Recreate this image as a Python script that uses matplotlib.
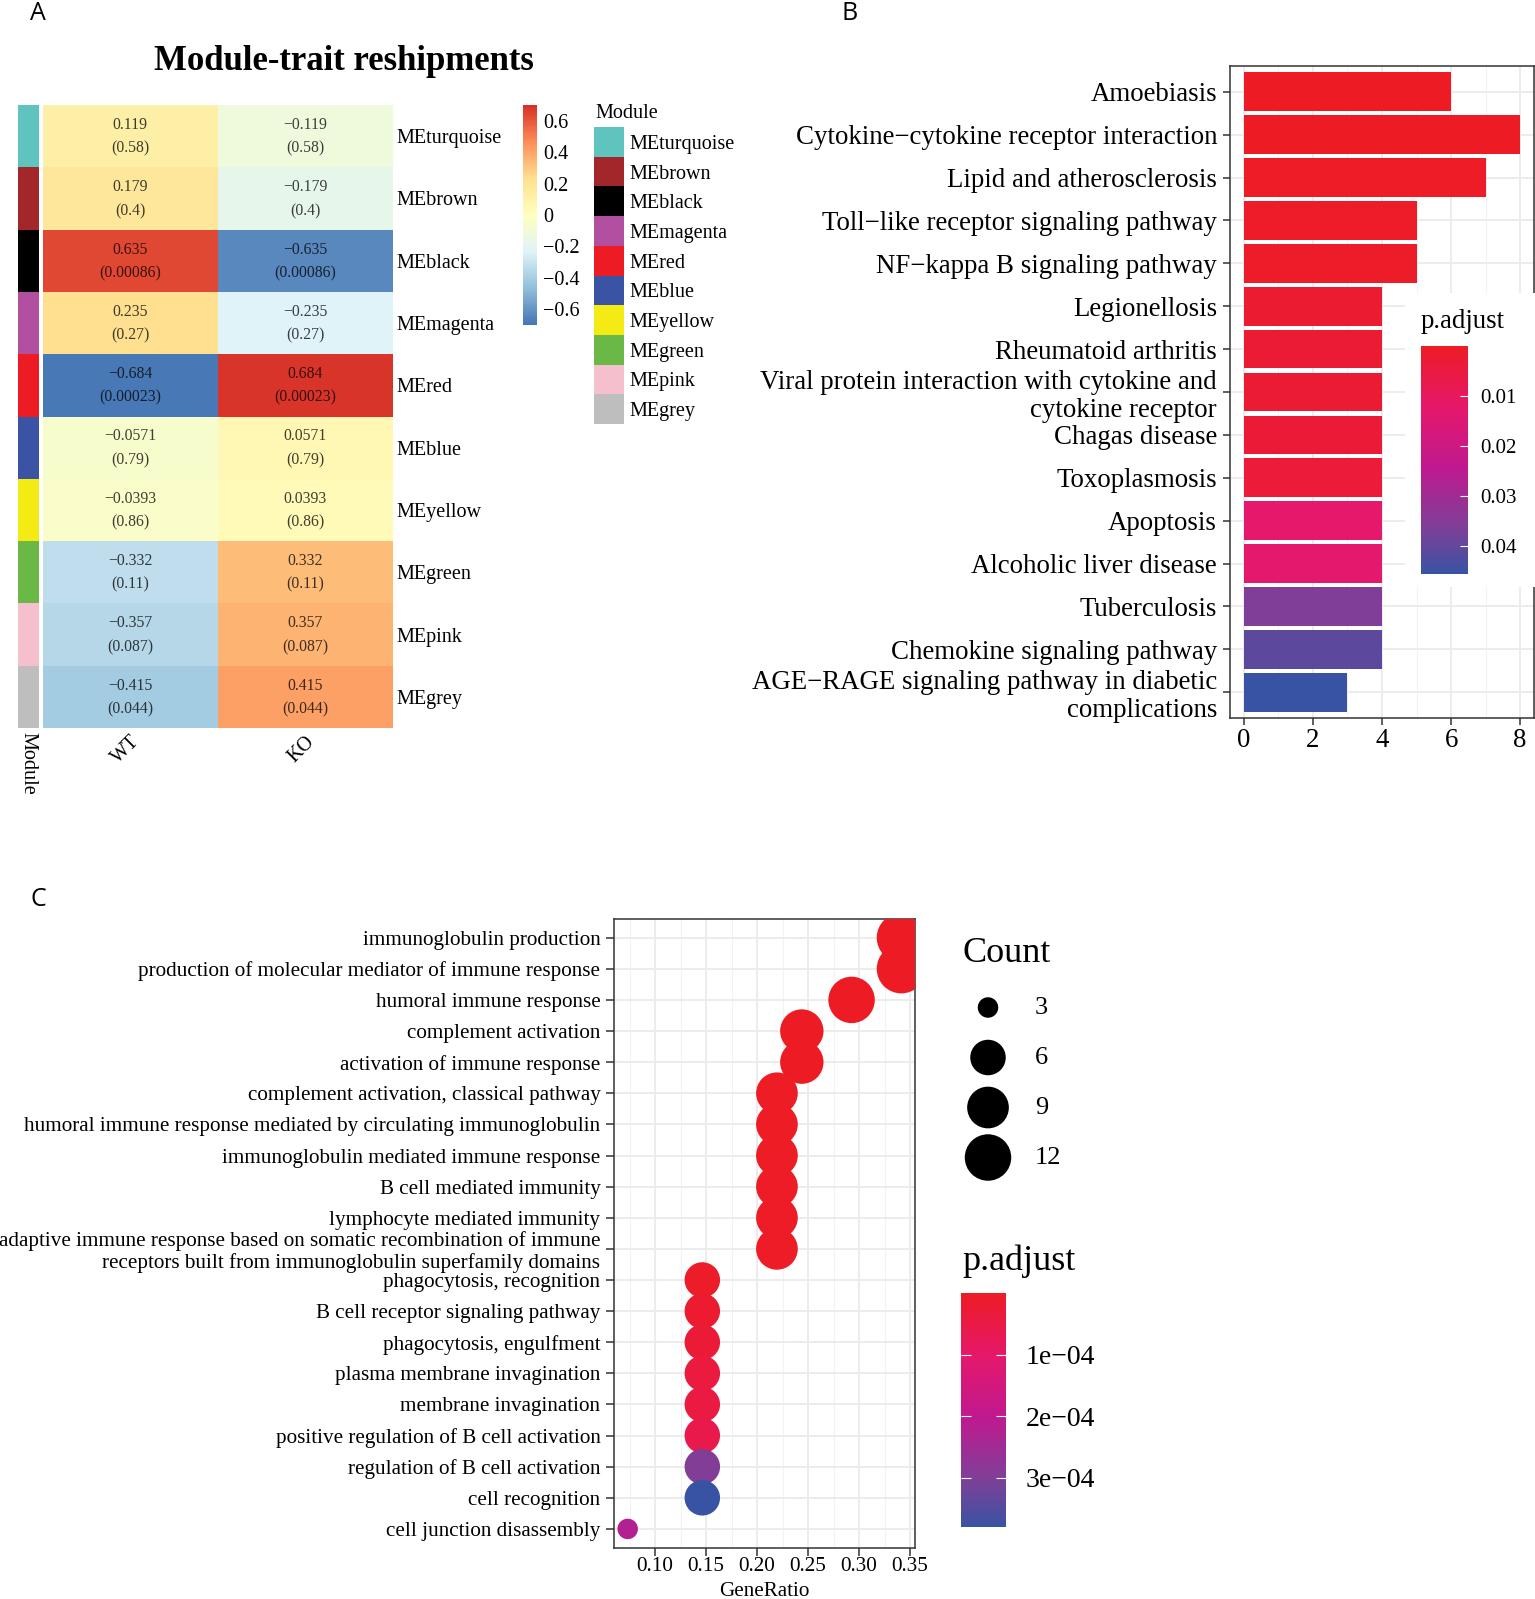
import numpy as np
import matplotlib
matplotlib.use("Agg")
import matplotlib.pyplot as plt
from matplotlib.colors import LinearSegmentedColormap, ListedColormap, Normalize
from matplotlib.cm import ScalarMappable
from matplotlib.ticker import FixedLocator

plt.rcParams["font.family"] = ["Liberation Serif", "DejaVu Serif"]
plt.rcParams["axes.unicode_minus"] = True

W, H = 1535, 1599

# ---- panel A: module-trait correlations ----
modules = ["MEturquoise", "MEbrown", "MEblack", "MEmagenta", "MEred",
           "MEblue", "MEyellow", "MEgreen", "MEpink", "MEgrey"]
module_colors = ["#5fc4be", "#a3262a", "#000000", "#b24fa0", "#ed1c24",
                 "#3a53a4", "#f5eb14", "#6ab946", "#f5bfce", "#bebebe"]
traits = ["WT", "KO"]
cor_wt = [0.119, 0.179, 0.635, 0.235, -0.684, -0.0571, -0.0393, -0.332, -0.357, -0.415]
cor_ko = [-0.119, -0.179, -0.635, -0.235, 0.684, 0.0571, 0.0393, 0.332, 0.357, 0.415]
pval = [0.58, 0.4, 0.00086, 0.27, 0.00023, 0.79, 0.86, 0.11, 0.087, 0.044]
cbar_ticks_a = [0.6, 0.4, 0.2, 0, -0.2, -0.4, -0.6]

# ---- panel B: KEGG barplot ----
kegg_terms = ["Amoebiasis",
              "Cytokine\u2212cytokine receptor interaction",
              "Lipid and atherosclerosis",
              "Toll\u2212like receptor signaling pathway",
              "NF\u2212kappa B signaling pathway",
              "Legionellosis",
              "Rheumatoid arthritis",
              "Viral protein interaction with cytokine and\ncytokine receptor",
              "Chagas disease",
              "Toxoplasmosis",
              "Apoptosis",
              "Alcoholic liver disease",
              "Tuberculosis",
              "Chemokine signaling pathway",
              "AGE\u2212RAGE signaling pathway in diabetic\ncomplications"]
kegg_count = [6, 8, 7, 5, 5, 4, 4, 4, 4, 4, 4, 4, 4, 4, 3]
kegg_padj = [0.00006, 0.0002, 0.0005, 0.0008, 0.001, 0.0025, 0.003, 0.003,
             0.0035, 0.0037, 0.0124, 0.0126, 0.036, 0.041, 0.0457]
kegg_ticks = [0.01, 0.02, 0.03, 0.04]

# ---- panel C: GO dotplot ----
go_terms = ["immunoglobulin production",
            "production of molecular mediator of immune response",
            "humoral immune response",
            "complement activation",
            "activation of immune response",
            "complement activation, classical pathway",
            "humoral immune response mediated by circulating immunoglobulin",
            "immunoglobulin mediated immune response",
            "B cell mediated immunity",
            "lymphocyte mediated immunity",
            "adaptive immune response based on somatic recombination of immune\n"
            "receptors built from immunoglobulin superfamily domains",
            "phagocytosis, recognition",
            "B cell receptor signaling pathway",
            "phagocytosis, engulfment",
            "plasma membrane invagination",
            "membrane invagination",
            "positive regulation of B cell activation",
            "regulation of B cell activation",
            "cell recognition",
            "cell junction disassembly"]
go_count = [14, 14, 12, 10, 10, 9, 9, 9, 9, 9, 9, 6, 6, 6, 6, 6, 6, 6, 6, 3]
go_total = 41
go_padj = [1.2e-7, 3e-7, 6e-7, 1e-6, 1.5e-6, 2e-6, 2.5e-6, 3e-6, 3.5e-6, 4e-6,
           5e-6, 8e-6, 1.9e-5, 2.7e-5, 3.8e-5, 4.6e-5, 5.7e-5, 2.96e-4, 3.8e-4, 2.2e-4]
go_xticks = [0.10, 0.15, 0.20, 0.25, 0.30, 0.35]
count_breaks = [3, 6, 9, 12]
go_ticks = [1e-4, 2e-4, 3e-4]


def px_axes(l, t, r, b):
    return fig.add_axes([l / W, 1 - b / H, (r - l) / W, (b - t) / H])


def fig_text(x, y, s, **kw):
    return fig.text(x / W, 1 - y / H, s, **kw)


def mfmt(v, fmt):
    return format(v, fmt).replace("-", "\u2212")


def sci(v):
    m, e = f"{v:.0e}".split("e")
    return f"{m}e{'\u2212' if e[0] == '-' else '+'}{e[1:]}"


hm_cmap = LinearSegmentedColormap.from_list(
    "rdylbu7", ["#4575b4", "#91bfdb", "#e0f3f8", "#ffffbf", "#fee090", "#fc8d59", "#d73027"])
pa_cmap = LinearSegmentedColormap.from_list(
    "padj", [(0, "#ed1c24"), (0.27, "#e5186b"), (0.53, "#c0198f"), (0.8, "#7d4098"), (1, "#3953a4")])

fig = plt.figure(figsize=(W / 100, H / 100), dpi=100)

# ================= panel A =================
n = len(modules)
hm_norm = Normalize(-0.7, 0.7)
ax_hm = px_axes(42.7, 105, 392.7, 728)
mat = np.column_stack([cor_wt, cor_ko])
ax_hm.pcolormesh(mat, cmap=hm_cmap, norm=hm_norm)
ax_hm.set_xlim(0, 2)
ax_hm.set_ylim(n, 0)
for i in range(n):
    for j, col in enumerate([cor_wt, cor_ko]):
        ax_hm.text(j + 0.5, i + 0.5 - 0.18, mfmt(col[i], ".3g"), ha="center", va="center",
                   fontsize=11.3, color="black", alpha=0.75)
        ax_hm.text(j + 0.5, i + 0.5 + 0.2, "(" + format(pval[i], ".2g") + ")", ha="center",
                   va="center", fontsize=11.3, color="black", alpha=0.75)
for s in ax_hm.spines.values():
    s.set_visible(False)
ax_hm.yaxis.tick_right()
ax_hm.set_yticks(np.arange(n) + 0.5, modules, fontsize=14.5)
ax_hm.set_xticks(np.arange(len(traits)) + 0.5, traits, fontsize=14.5)
ax_hm.tick_params(length=0, pad=3)
for lbl in ax_hm.get_xticklabels():
    lbl.set_rotation(45)
    lbl.set_ha("right")
    lbl.set_va("top")
    lbl.set_rotation_mode("anchor")

mod_cmap = ListedColormap(module_colors)
ax_st = px_axes(18, 105, 38.7, 728)
ax_st.pcolormesh(np.arange(n).reshape(-1, 1), cmap=mod_cmap, norm=Normalize(-0.5, n - 0.5))
ax_st.set_ylim(n, 0)
ax_st.axis("off")
fig_text(28.3, 732, "Module", rotation=270, ha="center", va="top", fontsize=14.5)

# module legend
ax_ml = px_axes(594, 127, 624, 424)
ax_ml.pcolormesh(np.arange(n).reshape(-1, 1), cmap=mod_cmap, norm=Normalize(-0.5, n - 0.5))
ax_ml.set_ylim(n, 0)
ax_ml.set_xticks([])
ax_ml.yaxis.tick_right()
ax_ml.set_yticks(np.arange(n) + 0.5, modules, fontsize=14.5)
ax_ml.tick_params(length=0, pad=4)
for s in ax_ml.spines.values():
    s.set_visible(False)
fig_text(595, 114, "Module", ha="left", va="center", fontsize=14.5)

# correlation colour bar
cax_a = px_axes(522.7, 105, 537.3, 325)
cb_a = fig.colorbar(ScalarMappable(hm_norm, hm_cmap), cax=cax_a)
cb_a.outline.set_visible(False)
cb_a.set_ticks(cbar_ticks_a, labels=[mfmt(t, "g") for t in cbar_ticks_a])
cax_a.tick_params(length=0, pad=4, labelsize=14.5)

fig_text(344, 61, "Module-trait reshipments", ha="center", va="center",
         fontsize=25, fontweight="bold")

# ================= panel B =================
nb = len(kegg_terms)
b_norm = Normalize(min(kegg_padj), max(kegg_padj))
ax_b = px_axes(1230, 66, 1534, 718)
ax_b.barh(np.arange(nb), kegg_count, height=0.9, color=pa_cmap(b_norm(kegg_padj)), zorder=2)
cmax = max(kegg_count)
ax_b.set_xlim(-0.05 * cmax, 1.05 * cmax)
ax_b.set_ylim(nb - 0.4, -0.6)
ax_b.set_xticks([0, 2, 4, 6, 8])
ax_b.set_xticks([1, 3, 5, 7], minor=True)
ax_b.set_yticks(np.arange(nb), kegg_terms)
for lbl in ax_b.get_yticklabels():
    lbl.set_linespacing(1.15)
ax_b.set_axisbelow(True)
ax_b.grid(which="major", color="#ebebeb", lw=1.3)
ax_b.grid(which="minor", axis="x", color="#f2f2f2", lw=0.8)
ax_b.tick_params(axis="y", length=5, width=1.1, color="#333333", pad=4.3, labelsize=19.4)
ax_b.tick_params(axis="x", which="major", length=5, width=1.1, color="#333333", pad=2, labelsize=19.4)
ax_b.tick_params(axis="x", which="minor", length=0)
for s in ax_b.spines.values():
    s.set_color("#333333")
    s.set_linewidth(1.1)

ax_bl = px_axes(1405, 293, 1535, 587)
ax_bl.set_zorder(2)
ax_bl.set_xticks([])
ax_bl.set_yticks([])
for s in ax_bl.spines.values():
    s.set_visible(False)
cax_b = px_axes(1420.7, 346, 1467.7, 574)
cax_b.set_zorder(3)
cb_b = fig.colorbar(ScalarMappable(b_norm, pa_cmap), cax=cax_b)
cb_b.outline.set_visible(False)
cb_b.set_ticks(kegg_ticks, labels=[f"{t:.2f}" for t in kegg_ticks])
cax_b.invert_yaxis()
cax_b.tick_params(direction="in", length=6, width=0.8, color="white", pad=9, labelsize=15)
t = fig_text(1421, 322, "p.adjust", ha="left", va="center", fontsize=19.4)
t.set_zorder(4)

# ================= panel C =================
nc = len(go_terms)
ratio = np.array(go_count) / go_total
c_norm = Normalize(min(go_padj), max(go_padj))
cmin_c, cmax_c = min(go_count), max(go_count)


def dot_size(c):
    d_px = 20.5 + 28.7 * np.sqrt((np.asarray(c, float) - cmin_c) / (cmax_c - cmin_c))
    return (d_px * 0.72) ** 2


ax_c = px_axes(614, 919, 915, 1547.6)
ax_c.scatter(ratio, np.arange(nc), s=dot_size(go_count), c=pa_cmap(c_norm(go_padj)),
             linewidths=0, zorder=3)
rng = ratio.max() - ratio.min()
ax_c.set_xlim(ratio.min() - 0.05 * rng, ratio.max() + 0.05 * rng)
ax_c.set_ylim(nc - 0.4, -0.6)
ax_c.set_xticks(go_xticks, [f"{v:.2f}" for v in go_xticks])
ax_c.xaxis.set_minor_locator(FixedLocator(np.array(go_xticks) - 0.025))
ax_c.set_yticks(np.arange(nc), go_terms)
for lbl in ax_c.get_yticklabels():
    lbl.set_linespacing(1.1)
ax_c.set_axisbelow(True)
ax_c.grid(which="major", color="#ebebeb", lw=1.3)
ax_c.grid(which="minor", axis="x", color="#f2f2f2", lw=0.8)
ax_c.tick_params(axis="y", length=5.5, width=1.1, color="#333333", pad=4.3, labelsize=15.2)
ax_c.tick_params(axis="x", which="major", length=5.5, width=1.1, color="#333333", pad=1.5, labelsize=15.2)
ax_c.tick_params(axis="x", which="minor", length=0)
ax_c.set_xlabel("GeneRatio", fontsize=15.2, labelpad=4)
for s in ax_c.spines.values():
    s.set_color("#333333")
    s.set_linewidth(1.1)

# size legend
fig_text(962, 954, "Count", ha="left", va="center", fontsize=26)
ax_sz = px_axes(958, 985, 1108, 1180)
ax_sz.scatter([0] * len(count_breaks), np.arange(len(count_breaks)), s=dot_size(count_breaks),
              color="black", linewidths=0, clip_on=False)
for k, c in enumerate(count_breaks):
    ax_sz.text(0.78, k + 0.02, str(c), ha="left", va="center", fontsize=19)
ax_sz.set_xlim(-0.5, 2.0)
ax_sz.set_ylim(3.45, -0.45)
ax_sz.axis("off")

# p.adjust colour bar
fig_text(962, 1261, "p.adjust", ha="left", va="center", fontsize=26)
cax_c = px_axes(961, 1293, 1006, 1527)
cb_c = fig.colorbar(ScalarMappable(c_norm, pa_cmap), cax=cax_c)
cb_c.outline.set_visible(False)
cb_c.set_ticks(go_ticks, labels=[sci(v) for v in go_ticks])
cax_c.invert_yaxis()
cax_c.tick_params(axis="y", direction="in", left=True, right=True, length=7, width=0.8,
                  color="white", pad=14, labelsize=20)

# panel letters
for x, y, s in [(38, 14, "A"), (850, 14, "B"), (38, 900, "C")]:
    fig_text(x, y, s, ha="center", va="center", fontsize=18, family="Open Sans")

fig.savefig("out.png", dpi=100)
